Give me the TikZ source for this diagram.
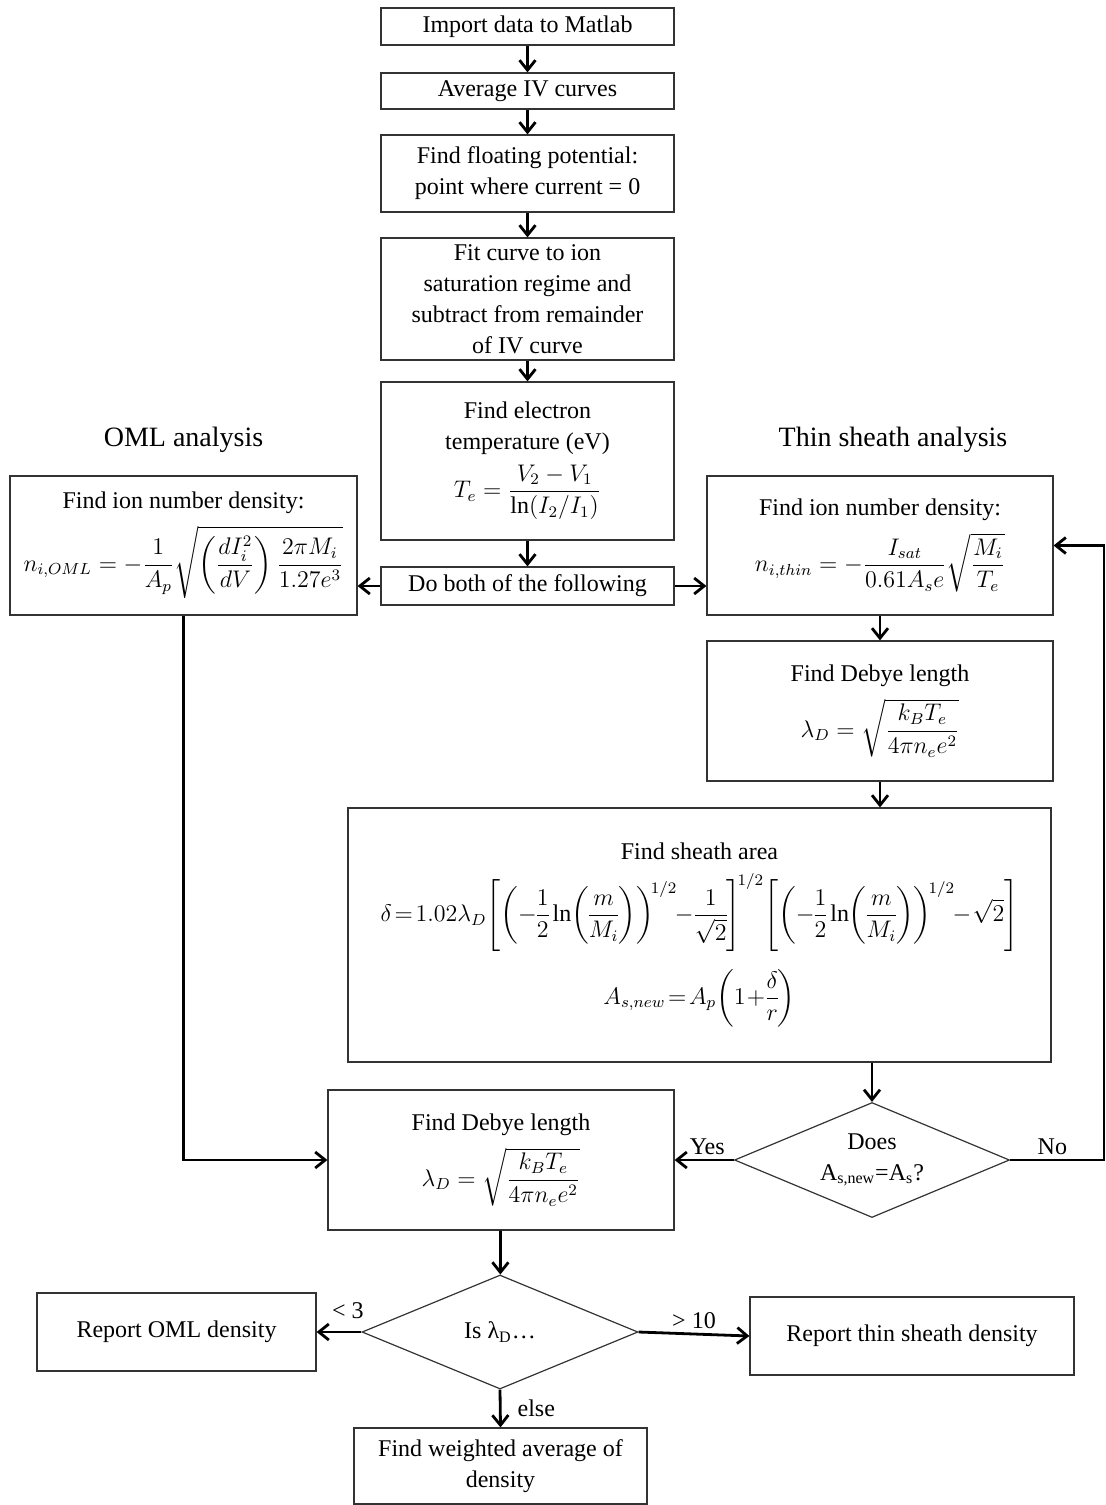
\documentclass[tikz,border=0pt]{standalone}
\usepackage{amsmath}
\usepackage{fontspec}
\setmainfont{Liberation Serif}
\usetikzlibrary{shapes.geometric,arrows.meta}
\tikzstyle{flow}=[x=0.5pt,y=-0.5pt,font=\fontsize{12}{15.5}\selectfont]
\tikzstyle{box}=[rectangle, draw=black!80, line width=0.6pt, align=center, inner sep=2pt]
\tikzstyle{ask}=[diamond, draw=black!80, line width=0.6pt, align=center, inner sep=0pt, aspect=2.4]
\tikzstyle{head}=[font=\fontsize{14}{17}\selectfont]
\tikzstyle{edge}=[line width=1.4pt, -{Straight Barb[length=5pt,width=8pt]}]
\tikzstyle{tag}=[inner sep=2pt]
\tikzstyle{tight}=[execute at begin node={\thickmuskip=2mu\medmuskip=1mu\nulldelimiterspace=0pt}]

\begin{document}
\begin{tikzpicture}[flow]
	\useasboundingbox (0,0) rectangle (1106,1505);

	%Preparing the IV data
	\draw (527.5,26.5) node[box, minimum width=146.5pt, minimum height=18.5pt] (imp) {Import data to Matlab};
	\draw (527.5,91) node[box, minimum width=146.5pt, minimum height=18pt] (avg) {Average IV curves};
	\draw (527.5,173.5) node[box, minimum width=146.5pt, minimum height=38.5pt] (vf) {Find floating potential:\\point where current = 0};
	\draw (527.5,299) node[box, minimum width=146.5pt, minimum height=61pt] (fit) {Fit curve to ion\\saturation regime and\\subtract from remainder\\of IV curve};
	\draw (527.5,461) node[box, minimum width=146.5pt, minimum height=79pt] (te) {Find electron\\temperature (eV)\\[4pt]$\displaystyle T_e=\frac{V_2-V_1}{\ln(I_2/I_1)}$};
	\draw (527.5,586) node[box, minimum width=146.5pt, minimum height=19pt] (both) {Do both of the following};

	%The two branches
	\draw (183.5,440) node[head] (omlh) {OML analysis};
	\draw (893,440) node[head] (thinh) {Thin sheath analysis};
	\draw (183.5,545.5) node[box, minimum width=173.5pt, minimum height=69.5pt] (oml) {Find ion number density:\\[5pt]$\displaystyle n_{i,OML}=-\frac{1}{A_p}\sqrt{\left(\frac{dI_i^2}{dV}\right)\frac{2\pi M_i}{1.27e^3}}$};
	\draw (880,545.5) node[box, minimum width=173pt, minimum height=69.5pt] (thin) {Find ion number density:\\[5pt]$\displaystyle n_{i,thin}=-\frac{I_{sat}}{0.61A_se}\sqrt{\frac{M_i}{T_e}}$};
	\draw (880,711) node[box, minimum width=173pt, minimum height=70pt] (dbr) {Find Debye length\\[5pt]$\displaystyle \lambda_D=\sqrt{\frac{k_BT_e}{4\pi n_e e^2}}$};
	\draw (699.5,935) node[box, tight, minimum width=351.5pt, minimum height=127pt] (sheath) {Find sheath area\\[6pt]$\displaystyle \delta=1.02\lambda_D\!\left[\left(-\frac{1}{2}\ln\!\left(\frac{m}{M_i}\right)\right)^{\!1/2}\!-\frac{1}{\sqrt{2}}\right]^{\!1/2}\!\left[\left(-\frac{1}{2}\ln\!\left(\frac{m}{M_i}\right)\right)^{\!1/2}\!-\sqrt{2}\right]$\\[8pt]$\displaystyle A_{s,new}=A_p\!\left(1+\frac{\delta}{r}\right)$};
	\draw (872,1160) node[ask, minimum width=137.5pt, minimum height=57.5pt] (chk) {Does\\A\textsubscript{s,new}=A\textsubscript{s}?};
	\draw (501,1160) node[box, minimum width=173pt, minimum height=70pt] (dbl) {Find Debye length\\[5pt]$\displaystyle \lambda_D=\sqrt{\frac{k_BT_e}{4\pi n_e e^2}}$};

	%Choosing the result
	\draw (500,1332) node[ask, minimum width=138pt, minimum height=57pt] (isl) {Is λ\textsubscript{D}\dots};
	\draw (176.5,1332) node[box, minimum width=139.5pt, minimum height=39pt] (roml) {Report OML density};
	\draw (912,1336) node[box, minimum width=162pt, minimum height=39pt] (rthin) {Report thin sheath density};
	\draw (500.5,1466) node[box, minimum width=146.5pt, minimum height=38pt] (wavg) {Find weighted average of\\density};

	\coordinate (loop) at (1104,1160);

	\draw[edge] (imp) -- (avg);
	\draw[edge] (avg) -- (vf);
	\draw[edge] (vf) -- (fit);
	\draw[edge] (fit) -- (te);
	\draw[edge] (te) -- (both);
	\draw[edge] (both.west) -- (both.west -| oml.east);
	\draw[edge] (both.east) -- (both.east -| thin.west);
	\draw[edge] (oml.south) |- (dbl.west);
	\draw[edge] (thin) -- (dbr);
	\draw[edge] (dbr.south) -- (dbr.south |- sheath.north);
	\draw[edge] (sheath.south -| chk.north) -- (chk.north);
	\draw[edge] (chk.west) -- (dbl.east) node[tag, pos=0.45, above] {Yes};
	\draw[edge] (chk.east) -- (loop) node[tag, pos=0.45, above] {No} |- (thin.east);
	\draw[edge] (dbl) -- (isl);
	\draw[edge] (isl.west) -- (roml.east) node[tag, pos=0.3, above=4pt] {< 3};
	\draw[edge] (isl.east) -- (rthin.west) node[tag, midway, above] {> 10};
	\draw[edge] (isl.south) -- (wavg.north) node[tag, midway, right=6pt] {else};
\end{tikzpicture}
\end{document}
